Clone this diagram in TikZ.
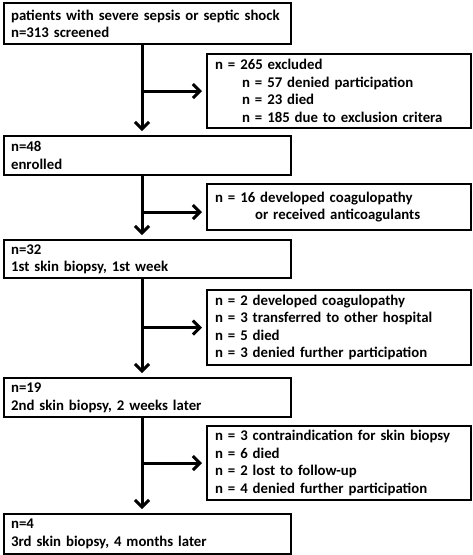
\documentclass[tikz,border=0pt]{standalone}
\usepackage{fontspec}
\setmainfont{Carlito}
\usetikzlibrary{arrows.meta}
\begin{document}
\begin{tikzpicture}[x=1pt,y=1pt,
  lbox/.style={draw, line width=2.2pt, rectangle, anchor=north west, align=left,
    minimum width=287pt, text width=273pt, inner xsep=7pt, inner ysep=1pt,
    font=\fontsize{14.8}{17.5}\selectfont\bfseries},
  rbox/.style={lbox, minimum width=264pt, text width=248pt, inner xsep=8pt},
  arr/.style={line width=3pt, -{Straight Barb[length=7pt,width=14pt,line width=3pt]}, shorten >=4pt}]
\useasboundingbox (0,0) rectangle (472,-555);
\coordinate (ax) at (142,0);
\node[lbox, minimum height=41pt] (b1) at (3,-2) {patients with severe sepsis or septic shock\\n=313 screened};
\node[rbox, minimum height=74pt] (r1) at (206,-53) {n = 265 excluded\\\hspace*{27pt}n = 57 denied participation\\\hspace*{27pt}n = 23 died\\\hspace*{27pt}n = 185 due to exclusion critera};
\node[lbox, minimum height=39pt] (b2) at (3,-135) {n=48\\enrolled};
\node[rbox, minimum height=46pt] (r2) at (206,-183) {n = 16 developed coagulopathy\\\hspace*{40pt}or received anticoagulants};
\node[lbox, minimum height=38pt] (b3) at (3,-239) {n=32\\1st skin biopsy, 1st week};
\node[rbox, minimum height=75pt] (r3) at (206,-289) {n = 2 developed coagulopathy\\n = 3 transferred to other hospital\\n = 5 died\\n = 3 denied further participation};
\node[lbox, minimum height=39pt] (b4) at (3,-377) {n=19\\2nd skin biopsy, 2 weeks later};
\node[rbox, minimum height=74pt] (r4) at (206,-425) {n = 3 contraindication for skin biopsy\\n = 6 died\\n = 2 lost to follow-up\\n = 4 denied further participation};
\node[lbox, minimum height=40pt] (b5) at (3,-513) {n=4\\3rd skin biopsy, 4 months later};
\draw[arr] (b1.south -| ax) -- (b2.north -| ax);
\draw[arr] (b2.south -| ax) -- (b3.north -| ax);
\draw[arr] (b3.south -| ax) -- (b4.north -| ax);
\draw[arr] (b4.south -| ax) -- (b5.north -| ax);
\draw[arr] (r1.west -| ax) -- (r1.west);
\draw[arr] ([yshift=-5pt]r2.west -| ax) -- ([yshift=-5pt]r2.west);
\draw[arr] (r3.west -| ax) -- (r3.west);
\draw[arr] (r4.west -| ax) -- (r4.west);
\end{tikzpicture}
\end{document}
